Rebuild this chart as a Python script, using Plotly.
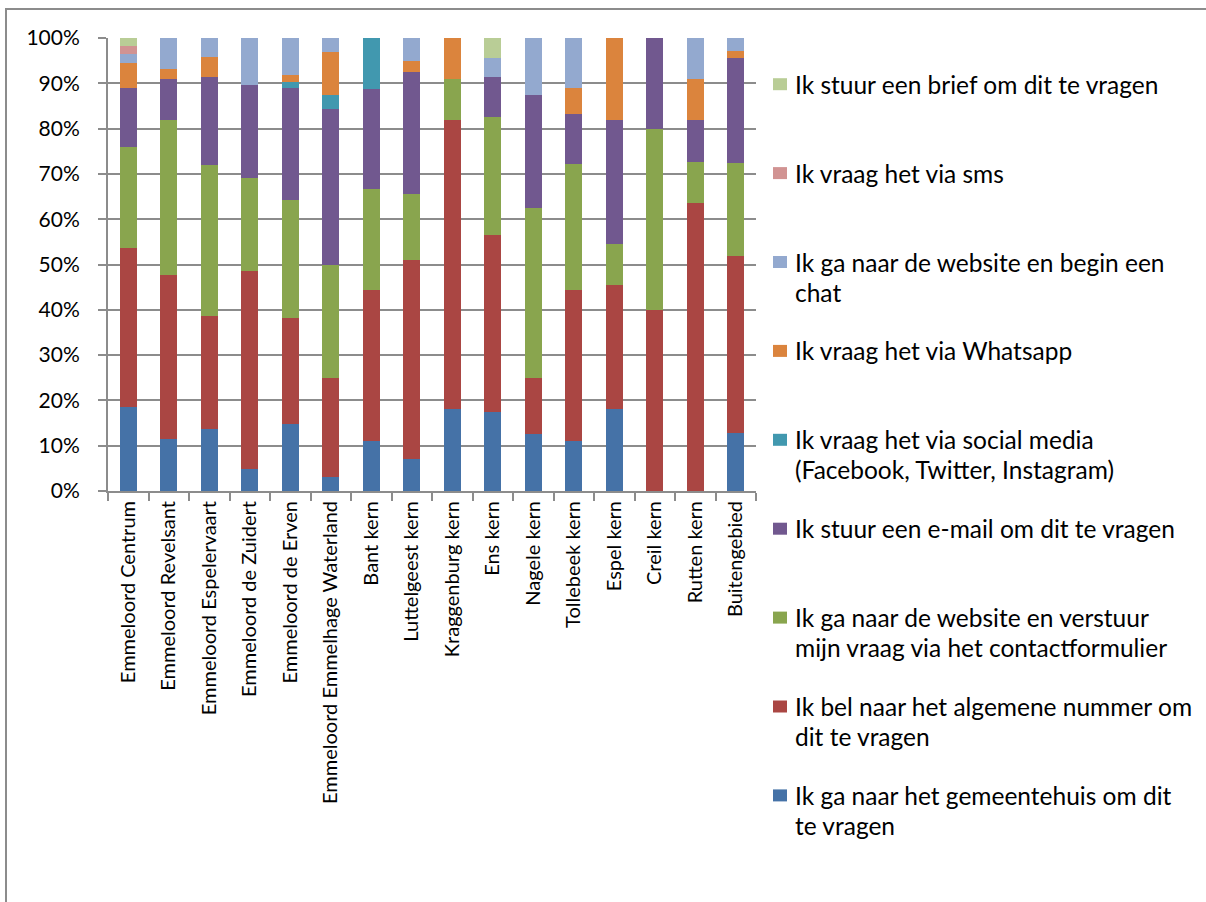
import plotly.graph_objects as go

categories = ["Emmeloord Centrum", "Emmeloord Revelsant", "Emmeloord Espelervaart",
              "Emmeloord de Zuidert", "Emmeloord de Erven", "Emmeloord Emmelhage Waterland",
              "Bant kern", "Luttelgeest kern", "Kraggenburg kern", "Ens kern", "Nagele kern",
              "Tollebeek kern", "Espel kern", "Creil kern", "Rutten kern", "Buitengebied"]

series_names = [
    "Ik ga naar het gemeentehuis om dit te vragen",
    "Ik bel naar het algemene nummer om dit te vragen",
    "Ik ga naar de website en verstuur mijn vraag via het contactformulier",
    "Ik stuur een e-mail om dit te vragen",
    "Ik vraag het via social media (Facebook, Twitter, Instagram)",
    "Ik vraag het via Whatsapp",
    "Ik ga naar de website en begin een chat",
    "Ik vraag het via sms",
    "Ik stuur een brief om dit te vragen",
]

# legend text lines (as wrapped in the reference)
legend_lines = [
    ["Ik ga naar het gemeentehuis om dit", "te vragen"],
    ["Ik bel naar het algemene nummer om", "dit te vragen"],
    ["Ik ga naar de website en verstuur", "mijn vraag via het contactformulier"],
    ["Ik stuur een e-mail om dit te vragen"],
    ["Ik vraag het via social media", "(Facebook, Twitter, Instagram)"],
    ["Ik vraag het via Whatsapp"],
    ["Ik ga naar de website en begin een", "chat"],
    ["Ik vraag het via sms"],
    ["Ik stuur een brief om dit te vragen"],
]

gemeentehuis = [18.5, 11.4, 13.6, 4.9, 14.9, 3.1, 11.1, 7.0, 18.2, 17.4, 12.5, 11.1, 18.2, 0.0, 0.0, 12.8]
bellen       = [35.2, 36.3, 25.0, 43.6, 23.4, 21.9, 33.3, 44.1, 63.6, 39.1, 12.5, 33.3, 27.3, 40.0, 63.6, 39.1]
formulier    = [22.2, 34.1, 33.3, 20.6, 25.9, 25.0, 22.2, 14.5, 9.1, 26.1, 37.5, 27.8, 9.1, 40.0, 9.1, 20.4]
email        = [13.0, 9.1, 19.6, 20.5, 24.8, 34.4, 22.2, 26.9, 0.0, 8.7, 25.0, 11.1, 27.3, 20.0, 9.1, 23.2]
social       = [0.0, 0.0, 0.0, 0.0, 1.3, 3.1, 11.2, 0.0, 0.0, 0.0, 0.0, 0.0, 0.0, 0.0, 0.0, 0.0]
whatsapp     = [5.6, 2.3, 4.2, 0.0, 1.5, 9.4, 0.0, 2.4, 9.1, 0.0, 0.0, 5.6, 18.1, 0.0, 9.1, 1.6]
chat         = [1.9, 6.8, 4.3, 10.4, 8.2, 3.1, 0.0, 5.1, 0.0, 4.3, 12.5, 11.1, 0.0, 0.0, 9.1, 2.9]
sms          = [1.8, 0, 0, 0, 0, 0, 0, 0, 0, 0, 0, 0, 0, 0, 0, 0]
brief        = [1.8, 0, 0, 0, 0, 0, 0, 0, 0, 4.4, 0, 0, 0, 0, 0, 0]

series_values = [gemeentehuis, bellen, formulier, email, social, whatsapp, chat, sms, brief]
colors = ["#4572A7", "#AA4643", "#89A54E", "#71588F", "#4198AF",
          "#DB843D", "#93A9CF", "#D19392", "#B9CD96"]

tick_vals = [0, 10, 20, 30, 40, 50, 60, 70, 80, 90, 100]
tick_text = [f"{v}%" for v in tick_vals]

FONT = "Lato, 'Open Sans', sans-serif"
W, H = 1206, 902
L, R, T, B = 108, 450, 38, 411
PW, PH = W - L - R, H - T - B
GRID = "#8C8C8C"


def px2x(px):
    return (px - L) / PW


def py2y(py):
    return (H - B - py) / PH


fig = go.Figure()
for name, vals, col in zip(series_names, series_values, colors):
    fig.add_trace(go.Bar(
        x=categories, y=vals, name=name,
        marker=dict(color=col, line=dict(width=0)),
        showlegend=False,
    ))

fig.update_layout(
    width=W, height=H,
    margin=dict(l=L, r=R, t=T, b=B, autoexpand=False),
    barmode="stack", bargap=0.58,
    plot_bgcolor="white", paper_bgcolor="white",
    font=dict(family=FONT, size=20, color="black"),
)

fig.update_yaxes(
    range=[0, 100], tickvals=tick_vals, ticktext=tick_text,
    showgrid=True, gridcolor=GRID, gridwidth=2,
    showline=True, linecolor=GRID, linewidth=2,
    ticks="outside", ticklen=8, tickcolor=GRID, tickwidth=2,
    ticklabelstandoff=14,
    zeroline=False, tickfont=dict(family=FONT, size=21, color="black"),
)
fig.update_xaxes(
    showline=True, linecolor=GRID, linewidth=2,
    ticks="outside", ticklen=8, tickcolor=GRID, tickwidth=2,
    tickson="boundaries", tickangle=-90,
    tickfont=dict(family=FONT, size=20, color="black"),
)

# manual legend, top entry first (reverse stacking order)
shapes = []
annotations = []
first_line_y = 84.2
step = 88.9
for i, idx in enumerate(range(len(series_names) - 1, -1, -1)):
    cy = first_line_y + i * step
    shapes.append(dict(type="rect", xref="paper", yref="paper",
                       x0=px2x(773), x1=px2x(787), y0=py2y(cy - 6), y1=py2y(cy + 6),
                       fillcolor=colors[idx], line=dict(width=0)))
    for j, line in enumerate(legend_lines[idx]):
        annotations.append(dict(xref="paper", yref="paper", x=px2x(793), y=py2y(cy + j * 30),
                                text=line, showarrow=False, xanchor="left", yanchor="middle",
                                font=dict(family=FONT, size=24.5, color="black")))

# chart frame border
shapes.append(dict(type="path", xref="paper", yref="paper",
                   path=f"M {px2x(6)},{py2y(910)} L {px2x(6)},{py2y(9)} L {px2x(1215)},{py2y(9)}",
                   line=dict(color=GRID, width=2)))

fig.update_layout(shapes=shapes, annotations=annotations)
fig.write_html("out.html")
